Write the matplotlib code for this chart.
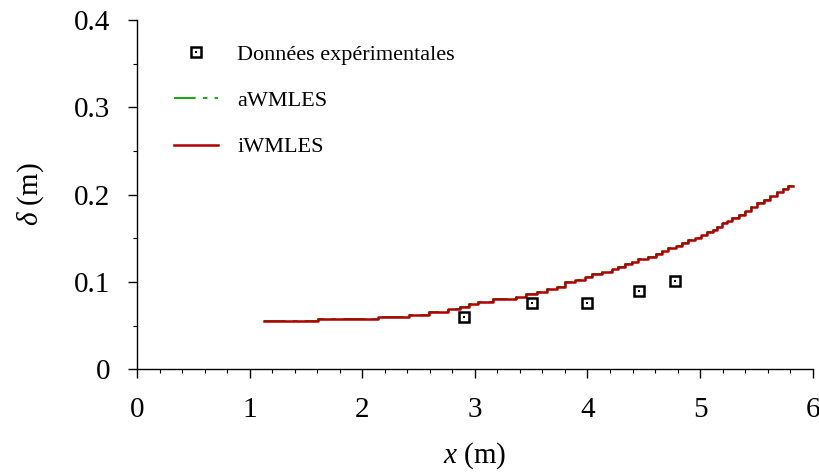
import matplotlib
matplotlib.use("Agg")
import matplotlib.pyplot as plt
from matplotlib.ticker import MultipleLocator

plt.rcParams['font.family'] = ['Liberation Serif', 'DejaVu Serif']
plt.rcParams['mathtext.fontset'] = 'custom'
plt.rcParams['mathtext.rm'] = 'Liberation Serif'
plt.rcParams['mathtext.it'] = 'Liberation Serif:italic'

# Experimental data
exp_x = [2.906, 3.51, 4.0, 4.46, 4.78]
exp_delta = [0.0603, 0.0756, 0.0756, 0.0897, 0.1015]

# Simulation (staircase) : step start positions and levels
sim_x = [1.125, 1.608, 2.137, 2.412, 2.595, 2.758, 2.864, 2.944, 3.028, 3.157,
         3.361, 3.453, 3.551, 3.645, 3.728, 3.802, 3.891, 3.980, 4.039, 4.128,
         4.217, 4.275, 4.335, 4.394, 4.453, 4.541, 4.610, 4.660, 4.719, 4.784,
         4.838, 4.896, 4.956, 5.006, 5.065, 5.118, 5.153, 5.195, 5.237, 5.287,
         5.346, 5.399, 5.455, 5.509, 5.569, 5.622, 5.681, 5.739, 5.784, 5.828]
iwmles = [0.0553, 0.0573, 0.0599, 0.0625, 0.0656, 0.0687, 0.0717, 0.0748, 0.0774, 0.0802,
          0.0832, 0.0863, 0.0889, 0.0916, 0.0946, 0.0994, 0.1023, 0.1054, 0.1088, 0.1118,
          0.1149, 0.1175, 0.1206, 0.1233, 0.1260, 0.1290, 0.1321, 0.1355, 0.1386, 0.1416,
          0.1447, 0.1478, 0.1507, 0.1538, 0.1569, 0.1599, 0.1632, 0.1670, 0.1702, 0.1737,
          0.1767, 0.1810, 0.1860, 0.1900, 0.1940, 0.1985, 0.2030, 0.2065, 0.2100, 0.2100]
awmles = list(iwmles)

x_ticks = [0, 1, 2, 3, 4, 5, 6]
y_ticks = [0, 0.1, 0.2, 0.3, 0.4]
y_ticklabels = ['0', '0.1', '0.2', '0.3', '0.4']

fig = plt.figure(figsize=(8.19, 4.74), dpi=100)
ax = fig.add_axes([0.1673, 0.2209, 0.8250, 0.7369])

l_a, = ax.plot(sim_x, awmles, drawstyle='steps-post', color='#00a000', lw=1.3,
               dashes=(12, 4, 2.5, 4), label='aWMLES', zorder=2)
l_i, = ax.plot(sim_x, iwmles, drawstyle='steps-post', color='#b00000', lw=1.8,
               label='iWMLES', zorder=3)
m_sq, = ax.plot(exp_x, exp_delta, ls='none', marker='s', ms=7, mfc='white',
                mec='black', mew=1.8, zorder=4)
m_dot, = ax.plot(exp_x, exp_delta, ls='none', marker='s', ms=1.6, mfc='black',
                 mec='black', mew=0, zorder=5)

ax.set_xlim(0, 6)
ax.set_ylim(0, 0.4)
ax.set_xticks(x_ticks)
ax.set_yticks(y_ticks)
ax.set_yticklabels(y_ticklabels)
ax.xaxis.set_minor_locator(MultipleLocator(0.2))
ax.yaxis.set_minor_locator(MultipleLocator(0.05))
for s in ['top', 'right']:
    ax.spines[s].set_visible(False)
for s in ['left', 'bottom']:
    ax.spines[s].set_linewidth(1.0)
ax.tick_params(which='major', direction='out', length=6.2, width=1.0, labelsize=21)
ax.tick_params(which='minor', direction='out', length=3, width=0.8)
ax.tick_params(axis='x', which='major', pad=14)
ax.tick_params(axis='y', which='major', pad=13)

ax.set_xlabel(r'$x$ (m)', fontsize=21, labelpad=12)
ax.set_ylabel(r'$\delta$ (m)', fontsize=21, labelpad=20)

leg = ax.legend([(m_sq, m_dot), l_a, l_i],
                ['Données expérimentales', 'aWMLES', 'iWMLES'],
                loc='upper left', bbox_to_anchor=(0.025, 0.987), frameon=False,
                fontsize=16, handlelength=2.0, handletextpad=0.85, labelspacing=1.15)

fig.savefig('out.png', dpi=100)
